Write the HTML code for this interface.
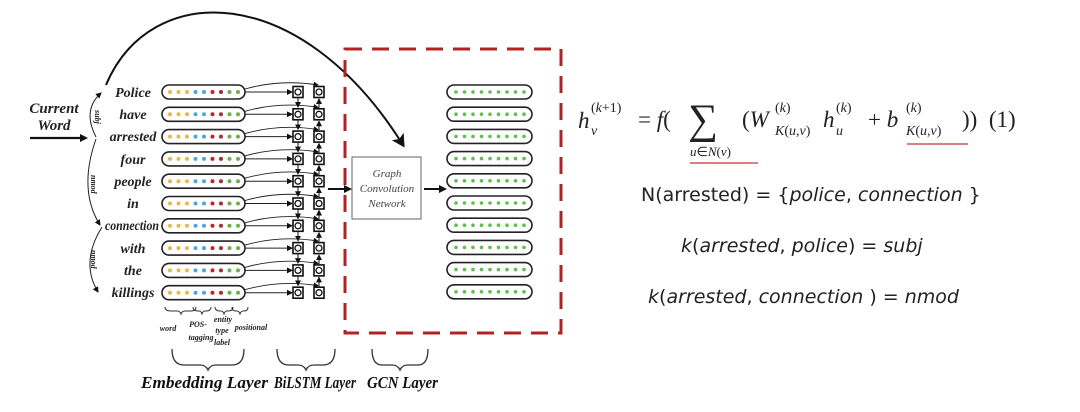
<!DOCTYPE html>
<html><head><meta charset="utf-8"><style>
body{margin:0;background:#fff;width:1080px;height:412px;overflow:hidden;position:relative;font-family:"Liberation Serif",serif}
.f{position:absolute;color:#222;white-space:nowrap}
.m{font-family:"DejaVu Sans","Liberation Sans",sans-serif;font-size:19px;color:#222;position:absolute;white-space:nowrap}
i{font-style:italic}
</style></head><body>
<svg width="1080" height="412" style="position:absolute;left:0;top:0">
<defs>
<marker id="a" markerWidth="6" markerHeight="6" refX="5" refY="3" orient="auto"><path d="M0,0 L6,3 L0,6 z" fill="#111"/></marker>
<marker id="A" markerWidth="8" markerHeight="8" refX="6" refY="4" orient="auto" markerUnits="userSpaceOnUse"><path d="M0,0 L8,4 L0,8 z" fill="#111"/></marker>
<marker id="B" markerWidth="14" markerHeight="14" refX="10" refY="7" orient="auto" markerUnits="userSpaceOnUse"><path d="M0,0 L13,7 L0,14 L3,7 z" fill="#111"/></marker>
<g id="row">
<rect x="162" y="-7" width="83" height="14" rx="7" fill="#fff" stroke="#222" stroke-width="1.6"/>
<circle cx="170" r="2" fill="#e8b84a"/><circle cx="178.5" r="2" fill="#e8b84a"/><circle cx="187" r="2" fill="#e8b84a"/>
<circle cx="195.5" r="2" fill="#4da6e0"/><circle cx="204" r="2" fill="#4da6e0"/>
<circle cx="212.5" r="2" fill="#b02a2a"/><circle cx="221" r="2" fill="#b02a2a"/>
<circle cx="229.5" r="2" fill="#6ab04c"/><circle cx="238" r="2" fill="#6ab04c"/>
<line x1="245" y1="0" x2="292" y2="0" stroke="#222" stroke-width="1" marker-end="url(#a)"/>
<path d="M245,-3 Q280,-13 318,-7" fill="none" stroke="#222" stroke-width="0.9" marker-end="url(#a)"/>
<rect x="293" y="-5.5" width="10" height="11" fill="#fff" stroke="#111" stroke-width="1.6"/><circle cx="298" r="3" fill="none" stroke="#111" stroke-width="1.3"/>
<rect x="314" y="-5.5" width="10" height="11" fill="#fff" stroke="#111" stroke-width="1.6"/><circle cx="319" r="3" fill="none" stroke="#111" stroke-width="1.3"/>
</g>
<g id="vv"><line x1="298" y1="6" x2="298" y2="15" stroke="#111" stroke-width="1" marker-end="url(#a)"/><line x1="319" y1="16" x2="319" y2="7" stroke="#111" stroke-width="1" marker-end="url(#a)"/></g>
<g id="ob">
<rect x="447" y="-7" width="85" height="14" rx="7" fill="#fff" stroke="#222" stroke-width="1.6"/>
<g fill="#5cc04a"><circle cx="456" r="1.8"/><circle cx="464.5" r="1.8"/><circle cx="473" r="1.8"/><circle cx="481.5" r="1.8"/><circle cx="490" r="1.8"/><circle cx="498.5" r="1.8"/><circle cx="507" r="1.8"/><circle cx="515.5" r="1.8"/><circle cx="524" r="1.8"/></g>
</g>
</defs>
<use href="#row" y="92"/><use href="#row" y="114.3"/><use href="#row" y="136.6"/><use href="#row" y="158.9"/><use href="#row" y="181.2"/><use href="#row" y="203.5"/><use href="#row" y="225.8"/><use href="#row" y="248.1"/><use href="#row" y="270.4"/><use href="#row" y="292.7"/>
<use href="#vv" y="92"/><use href="#vv" y="114.3"/><use href="#vv" y="136.6"/><use href="#vv" y="158.9"/><use href="#vv" y="181.2"/><use href="#vv" y="203.5"/><use href="#vv" y="225.8"/><use href="#vv" y="248.1"/><use href="#vv" y="270.4"/>
<use href="#ob" y="92"/><use href="#ob" y="114.2"/><use href="#ob" y="136.4"/><use href="#ob" y="158.6"/><use href="#ob" y="180.8"/><use href="#ob" y="203"/><use href="#ob" y="225.2"/><use href="#ob" y="247.4"/><use href="#ob" y="269.6"/><use href="#ob" y="291.8"/>
<g font-family="Liberation Serif" font-style="italic" font-weight="bold" font-size="14" text-anchor="middle" fill="#222">
<text x="133" y="97">Police</text><text x="133" y="119">have</text><text x="133" y="141">arrested</text><text x="133" y="164">four</text><text x="133" y="186">people</text><text x="133" y="208">in</text><text x="132" y="230" textLength="54" lengthAdjust="spacingAndGlyphs">connection</text><text x="133" y="253">with</text><text x="133" y="275">the</text><text x="133" y="297">killings</text>
<text x="54" y="113" font-size="15">Current</text><text x="54" y="130" font-size="15">Word</text>
</g>
<line x1="30" y1="138" x2="86" y2="138" stroke="#111" stroke-width="2.2" marker-end="url(#A)"/>
<path d="M96,137 Q82,110 101,93" fill="none" stroke="#222" stroke-width="1" marker-end="url(#a)"/>
<path d="M96,139 Q78,190 100,225" fill="none" stroke="#222" stroke-width="1" marker-end="url(#a)"/>
<path d="M102,227 Q80,262 98,292" fill="none" stroke="#222" stroke-width="1" marker-end="url(#a)"/>
<g font-family="Liberation Serif" font-style="italic" font-weight="bold" font-size="8" fill="#222">
<text transform="translate(95,110) rotate(90)">subj</text>
<text transform="translate(91,175) rotate(90)">nmod</text>
<text transform="translate(91,250) rotate(90)">nmod</text>
</g>
<path d="M106,85 C150,-20 300,-20 403,145" fill="none" stroke="#111" stroke-width="2" marker-end="url(#B)"/>
<rect x="345" y="49" width="216" height="284" fill="none" stroke="#b22222" stroke-width="3" stroke-dasharray="17,10"/>
<rect x="352" y="157" width="69" height="62" fill="#fff" stroke="#666" stroke-width="1"/>
<g font-family="Liberation Serif" font-style="italic" font-size="11" fill="#444" text-anchor="middle">
<text x="387" y="177">Graph</text><text x="387" y="192">Convolution</text><text x="387" y="207">Network</text></g>
<line x1="328" y1="189" x2="350" y2="189" stroke="#111" stroke-width="2" marker-end="url(#A)"/>
<line x1="424" y1="189" x2="445" y2="189" stroke="#111" stroke-width="2" marker-end="url(#A)"/>
<g fill="none" stroke="#333" stroke-width="1">
<path d="M165,307 q0,4 6,4 h6 q3,0 4,3 q1,-3 4,-3 h6 q5,0 5,-4"/>
<path d="M193,307 q0,4 5,4 h1 q2,0 3,3 q1,-3 3,-3 h1 q5,0 5,-4"/>
<path d="M215,307 q0,4 5,4 h1 q2,0 3,3 q1,-3 3,-3 h1 q5,0 5,-4"/>
<path d="M232,307 q0,4 4,4 h1 q2,0 3,3 q1,-3 3,-3 h1 q4,0 4,-4"/>
<path d="M172,349 q0,16 12,16 h16 q6,0 8,5 q2,-5 8,-5 h16 q12,0 12,-16" stroke-width="1.3"/>
<path d="M277,349 q0,16 12,16 h9 q6,0 8,5 q2,-5 8,-5 h9 q12,0 12,-16" stroke-width="1.3"/>
<path d="M372,349 q0,16 10,16 h10 q6,0 8,5 q2,-5 8,-5 h10 q10,0 10,-16" stroke-width="1.3"/>
</g>
<g font-family="Liberation Serif" font-style="italic" font-weight="bold" font-size="8" fill="#222" text-anchor="middle">
<text x="168" y="331">word</text><text x="198" y="327">POS-</text><text x="201" y="340">tagging</text>
<text x="223" y="322">entity</text><text x="222" y="333">type</text><text x="222" y="345">label</text><text x="251" y="330">positional</text></g>
<g font-family="Liberation Serif" font-style="italic" font-weight="bold" font-size="17" fill="#111">
<text x="141" y="388" textLength="127" lengthAdjust="spacingAndGlyphs">Embedding Layer</text>
<text x="274" y="388" textLength="82" lengthAdjust="spacingAndGlyphs">BiLSTM Layer</text>
<text x="367" y="388" textLength="71" lengthAdjust="spacingAndGlyphs">GCN Layer</text></g>
<line x1="690" y1="163" x2="758" y2="163" stroke="#c0392b" stroke-width="1.2"/>
<line x1="907" y1="144" x2="968" y2="144" stroke="#c0392b" stroke-width="1.2"/>
</svg>
<div class="f" style="left:578px;top:108px;font-size:23px"><i>h</i></div>
<div class="f" style="left:591px;top:101px;font-size:14px">(<i>k</i>+1)</div>
<div class="f" style="left:591px;top:124px;font-size:14px"><i>v</i></div>
<div class="f" style="left:638px;top:107px;font-size:23px">= <i>f</i>(</div>
<div class="f" style="left:688px;top:96px;font-size:42px">&sum;</div>
<div class="f" style="left:690px;top:144px;font-size:13px"><i>u</i>&isin;<i>N</i>(<i>v</i>)</div>
<div class="f" style="left:742px;top:107px;font-size:23px">(<i>W</i></div>
<div class="f" style="left:775px;top:101px;font-size:14px">(<i>k</i>)</div>
<div class="f" style="left:775px;top:124px;font-size:14px"><i>K</i>(<i>u</i>,<i>v</i>)</div>
<div class="f" style="left:823px;top:107px;font-size:23px"><i>h</i></div>
<div class="f" style="left:836px;top:101px;font-size:14px">(<i>k</i>)</div>
<div class="f" style="left:836px;top:124px;font-size:14px"><i>u</i></div>
<div class="f" style="left:868px;top:107px;font-size:23px">+ <i>b</i></div>
<div class="f" style="left:906px;top:101px;font-size:14px">(<i>k</i>)</div>
<div class="f" style="left:906px;top:124px;font-size:14px"><i>K</i>(<i>u</i>,<i>v</i>)</div>
<div class="f" style="left:962px;top:107px;font-size:23px">))&nbsp; (1)</div>
<div class="m" style="left:641px;top:184px">N(arrested) = {<i>police</i>, <i>connection</i> }</div>
<div class="m" style="left:681px;top:235px"><i>k</i>(<i>arrested</i>, <i>police</i>) = <i>subj</i></div>
<div class="m" style="left:648px;top:286px"><i>k</i>(<i>arrested</i>, <i>connection</i> ) = <i>nmod</i></div>
</body></html>
